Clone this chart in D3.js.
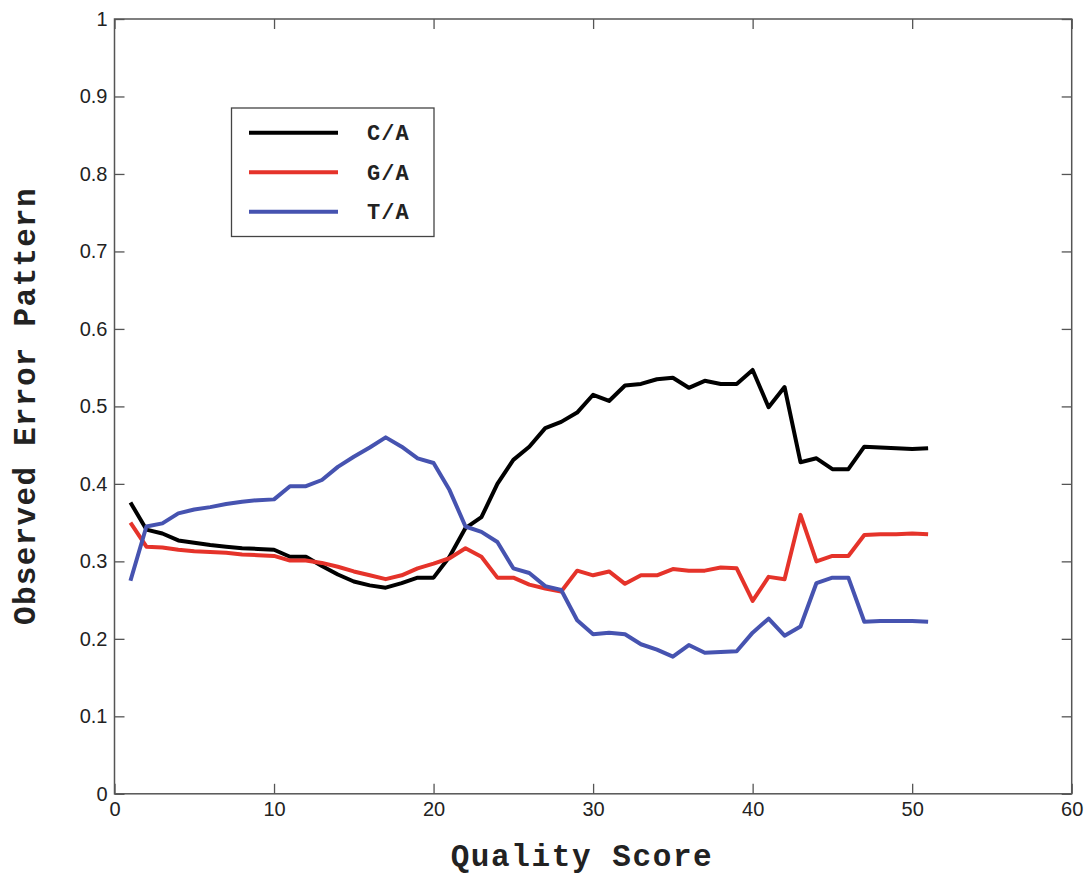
<!DOCTYPE html>
<html>
<head>
<meta charset="utf-8">
<script src="https://cdn.jsdelivr.net/npm/d3@7"></script>
<style>
  body { margin: 0; background: #fff; }
  svg { display: block; }
</style>
</head>
<body>
<div id="chart-area"></div>
<script>
// Data
var quality = d3.range(1, 52)

var caValues = [0.376, 0.341, 0.336, 0.327, 0.324, 0.321, 0.319, 0.317, 0.316, 0.315,
                0.306, 0.306, 0.294, 0.283, 0.274, 0.269, 0.266, 0.272, 0.279, 0.279,
                0.306, 0.343, 0.357, 0.400, 0.431, 0.448, 0.472, 0.480, 0.492, 0.515,
                0.507, 0.527, 0.529, 0.535, 0.537, 0.524, 0.533, 0.529, 0.529, 0.547,
                0.499, 0.525, 0.428, 0.433, 0.419, 0.419, 0.448, 0.447, 0.446, 0.445, 0.446]

var gaValues = [0.350, 0.319, 0.318, 0.315, 0.313, 0.312, 0.311, 0.309, 0.308, 0.307,
                0.301, 0.301, 0.298, 0.293, 0.287, 0.282, 0.277, 0.282, 0.291, 0.297,
                0.304, 0.317, 0.306, 0.279, 0.279, 0.270, 0.265, 0.261, 0.288, 0.282,
                0.287, 0.271, 0.282, 0.282, 0.290, 0.288, 0.288, 0.292, 0.291, 0.249,
                0.280, 0.277, 0.360, 0.300, 0.307, 0.307, 0.334, 0.335, 0.335, 0.336, 0.335]

var taValues = [0.275, 0.345, 0.349, 0.362, 0.367, 0.370, 0.374, 0.377, 0.379, 0.380,
                0.397, 0.397, 0.405, 0.422, 0.435, 0.447, 0.460, 0.448, 0.433, 0.427,
                0.392, 0.345, 0.338, 0.325, 0.291, 0.285, 0.268, 0.263, 0.224, 0.206,
                0.208, 0.206, 0.193, 0.186, 0.177, 0.192, 0.182, 0.183, 0.184, 0.208,
                0.226, 0.204, 0.216, 0.272, 0.279, 0.279, 0.222, 0.223, 0.223, 0.223, 0.222]

var seriesNames = ["C/A", "G/A", "T/A"]
var seriesColors = ["#000000", "#e5332a", "#4653b0"]

var xTicks = [0, 10, 20, 30, 40, 50, 60]
var yTicks = [0, 0.1, 0.2, 0.3, 0.4, 0.5, 0.6, 0.7, 0.8, 0.9, 1]

//Sizes
var width = 1087
var height = 876
var plot = {left: 114.5, right: 1071.7, top: 19, bottom: 793.8}

var svg = d3.select("#chart-area")
    .append("svg")
        .attr("width", width)
        .attr("height", height)

//Scales
var x = d3.scaleLinear().domain([0, 60]).range([plot.left, plot.right])
var y = d3.scaleLinear().domain([0, 1]).range([plot.bottom, plot.top])

var axisColor = "#555"
var tickFont = "'Liberation Sans', Arial, sans-serif"
var monoFont = "'Liberation Mono', 'Courier New', monospace"

//Axes, ticks pointing inward
function styleAxis(g){
    g.select(".domain").remove()
    g.selectAll(".tick line").attr("stroke", axisColor).attr("stroke-width", 1.3)
    g.selectAll(".tick text")
        .attr("fill", "#222")
        .attr("font-family", tickFont)
        .attr("font-size", "20px")
}

svg.append("g")
    .attr("transform", "translate(0," + plot.bottom + ")")
    .call(d3.axisBottom(x).tickValues(xTicks).tickFormat(d3.format("d"))
        .tickSizeInner(-10).tickSizeOuter(0).tickPadding(8))
    .call(styleAxis)

svg.append("g")
    .attr("transform", "translate(" + plot.left + ",0)")
    .call(d3.axisLeft(y).tickValues(yTicks).tickFormat(d => String(d))
        .tickSizeInner(-10).tickSizeOuter(0).tickPadding(7))
    .call(styleAxis)

svg.append("g")
    .attr("transform", "translate(0," + plot.top + ")")
    .call(d3.axisTop(x).tickValues(xTicks).tickFormat("")
        .tickSizeInner(-10).tickSizeOuter(0))
    .call(styleAxis)

svg.append("g")
    .attr("transform", "translate(" + plot.right + ",0)")
    .call(d3.axisRight(y).tickValues(yTicks).tickFormat("")
        .tickSizeInner(-10).tickSizeOuter(0))
    .call(styleAxis)

//Box
svg.append("rect")
    .attr("x", plot.left)
    .attr("y", plot.top)
    .attr("width", plot.right - plot.left)
    .attr("height", plot.bottom - plot.top)
    .attr("fill", "none")
    .attr("stroke", axisColor)
    .attr("stroke-width", 1.5)

//Lines
var line = d3.line()
    .x((d, i) => x(quality[i]))
    .y(d => y(d))

var allSeries = [caValues, gaValues, taValues]

svg.selectAll(".series")
    .data(allSeries)
    .enter()
    .append("path")
        .attr("class", "series")
        .attr("d", line)
        .attr("fill", "none")
        .attr("stroke", (d, i) => seriesColors[i])
        .attr("stroke-width", 4)
        .attr("stroke-linejoin", "round")

//Legend
var legend = svg.append("g")

legend.append("rect")
    .attr("x", 231.5)
    .attr("y", 108)
    .attr("width", 202.5)
    .attr("height", 128.5)
    .attr("fill", "#fff")
    .attr("stroke", "#444")
    .attr("stroke-width", 1.3)

var legendRows = legend.selectAll(".legend-row")
    .data(seriesNames)
    .enter()
    .append("g")
        .attr("class", "legend-row")
        .attr("transform", (d, i) => "translate(0," + (132.7 + i * 39.5) + ")")

legendRows.append("line")
    .attr("x1", 249)
    .attr("x2", 338)
    .attr("stroke", (d, i) => seriesColors[i])
    .attr("stroke-width", 4)

legendRows.append("text")
    .attr("x", 367)
    .attr("dy", "0.35em")
    .attr("font-family", monoFont)
    .attr("font-weight", "bold")
    .attr("font-size", "22px")
    .attr("letter-spacing", "1px")
    .attr("fill", "#222")
    .text(d => d)

//Axis labels
svg.append("text")
    .attr("x", 582)
    .attr("y", 866)
    .attr("text-anchor", "middle")
    .attr("font-family", monoFont)
    .attr("font-weight", "bold")
    .attr("font-size", "31px")
    .attr("letter-spacing", "1.6px")
    .attr("fill", "#222")
    .text("Quality Score")

svg.append("text")
    .attr("transform", "translate(35,406) rotate(-90)")
    .attr("text-anchor", "middle")
    .attr("font-family", monoFont)
    .attr("font-weight", "bold")
    .attr("font-size", "31px")
    .attr("letter-spacing", "1.3px")
    .attr("fill", "#222")
    .text("Observed Error Pattern")
</script>
</body>
</html>
